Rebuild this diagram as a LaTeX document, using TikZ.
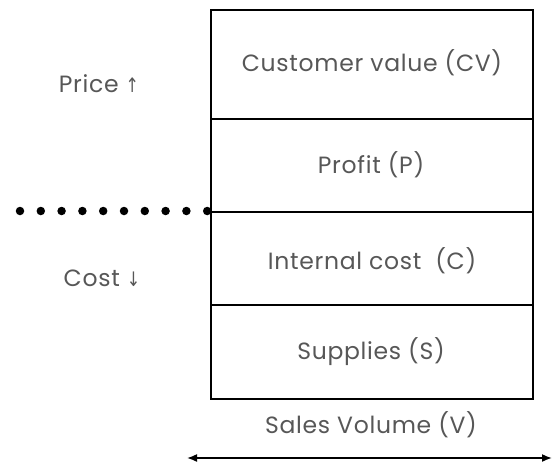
\documentclass[tikz,border=0pt]{standalone}
\usepackage{fontspec}
\setmainfont{Poppins}[LetterSpace=3]
\newfontfamily\symfont{DejaVu Sans}[FakeStretch=0.8]
\usetikzlibrary{arrows.meta}
\begin{document}
\begin{tikzpicture}[x=1pt,y=-1pt,
  cell/.style={draw=black,line width=1.6pt,minimum width=322pt,inner sep=0pt,anchor=north west},
  lbl/.style={text=black!66,font=\fontsize{23.5}{28}\selectfont},
  dotmark/.style={fill=black,circle,inner sep=0pt,minimum size=8.5pt}]
\useasboundingbox (0,0) rectangle (553,468);
\node[cell,minimum height=109pt] (cv) at (210,9) {};
\node[cell,minimum height=93pt] (p) at (210,118) {};
\node[cell,minimum height=93pt] (c) at (210,211) {};
\node[cell,minimum height=94pt] (s) at (210,304) {};
\node[lbl] (tcv) at (372,63) {Customer value (CV)};
\node[lbl] (tp) at (371,165) {Profit (P)};
\node[lbl] (tc) at (372,261) {Internal cost\ \ (C)};
\node[lbl] (ts) at (371,352) {Supplies (S)};
\node[lbl] (tv) at (371,425) {Sales Volume (V)};
\node[lbl] (price) at (99,84) {Price {\symfont\fontsize{20}{24}\selectfont ↑}};
\node[lbl] (cost) at (102,278) {Cost {\symfont\fontsize{20}{24}\selectfont ↓}};
\foreach \i in {0,...,9} {
  \node[dotmark] (d\i) at (20+20.8*\i,211) {};
}
\coordinate (al) at (187,458);
\coordinate (ar) at (552,458);
\draw[line width=1.6pt,{Latex[length=10pt,width=8pt]}-{Latex[length=10pt,width=8pt]}] (al) -- (ar);
\end{tikzpicture}
\end{document}
